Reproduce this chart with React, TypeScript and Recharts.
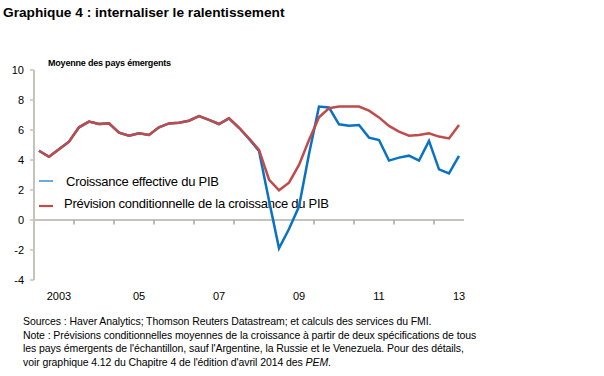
import { FC } from "react";
import {
  ComposedChart,
  Line,
  XAxis,
  YAxis,
  ReferenceLine,
} from "recharts";

// trimestres 2003T1 .. 2013T3
const years = [2003, 2004, 2005, 2006, 2007, 2008, 2009, 2010, 2011, 2012, 2013];
const periods: string[] = [];
years.forEach((y) => {
  for (let q = 1; q <= 4; q++) {
    if (y === 2013 && q === 4) break;
    periods.push(`${y}T${q}`);
  }
});

const prevision = [
  4.62, 4.22, 4.71, 5.22, 6.18, 6.56, 6.4, 6.44, 5.82, 5.62, 5.78, 5.67, 6.18,
  6.44, 6.49, 6.62, 6.93, 6.67, 6.4, 6.78, 6.15, 5.45, 4.67, 2.7, 1.98, 2.49,
  3.67, 5.33, 6.85, 7.45, 7.56, 7.56, 7.56, 7.29, 6.84, 6.27, 5.89, 5.62, 5.67,
  5.78, 5.56, 5.44, 6.33,
];

const effective = [
  4.62, 4.22, 4.71, 5.22, 6.18, 6.56, 6.4, 6.44, 5.82, 5.62, 5.78, 5.67, 6.18,
  6.44, 6.49, 6.62, 6.93, 6.67, 6.4, 6.78, 6.15, 5.4, 4.6, 1.3, -1.89, -0.6,
  0.9, 4.4, 7.56, 7.5, 6.38, 6.29, 6.33, 5.49, 5.33, 3.96, 4.16, 4.29, 3.96,
  5.27, 3.38, 3.11, 4.27,
];

const yTicks = [-4, -2, 0, 2, 4, 6, 8, 10];
const xLabelIdx = [2, 10, 18, 26, 34, 42];
const xLabels = ["2003", "05", "07", "09", "11", "13"];
const yearBreaks = [3.5, 7.5, 11.5, 15.5, 19.5, 23.5, 27.5, 31.5, 35.5, 39.5];

const series = [
  { key: "effective", name: "Croissance effective du PIB", color: "#0a72c4" },
  {
    key: "prevision",
    name: "Prévision conditionnelle de la croissance du PIB",
    color: "#bf4b4a",
  },
];

const notes = [
  "Sources : Haver Analytics; Thomson Reuters Datastream; et calculs des services du FMI.",
  "Note : Prévisions conditionnelles moyennes de la croissance à partir de deux spécifications de tous",
  "les pays émergents de l'échantillon, sauf l'Argentine, la Russie et le Venezuela. Pour des détails,",
  "voir graphique 4.12 du Chapitre 4 de l'édition d'avril 2014 des ",
];

const data = periods.map((p, i) => ({
  idx: i,
  period: p,
  effective: effective[i],
  prevision: prevision[i],
}));

const font = '"Liberation Sans", Arial, sans-serif';
const axisGrey = "#c4c4bc";

const App: FC = () => {
  return (
    <div
      style={{
        position: "absolute",
        left: 0,
        top: 0,
        width: 604,
        height: 376,
        background: "#fff",
        fontFamily: font,
      }}
    >
      <svg
        width={604}
        height={376}
        style={{ position: "absolute", left: 0, top: 0 }}
        fontFamily={font}
      >
        <text x={3} y={17} fontSize={13.7} fontWeight="bold" fill="#000">
          Graphique 4 : internaliser le ralentissement
        </text>
        <text
          x={48}
          y={66}
          fontSize={9}
          fontWeight="bold"
          letterSpacing={-0.2}
          fill="#000"
        >
          Moyenne des pays émergents
        </text>
        {/* légende, sous les courbes */}
        <line x1={39} x2={53} y1={181} y2={181} stroke={series[0].color} strokeWidth={1.2} />
        <text x={66} y={186} fontSize={13} letterSpacing={-0.25} fill="#000">
          {series[0].name}
        </text>
        <line x1={39} x2={53} y1={206} y2={206} stroke={series[1].color} strokeWidth={2.2} />
        <text x={64} y={208} fontSize={13} letterSpacing={-0.25} fill="#000">
          {series[1].name}
        </text>
        {notes.map((t, i) => (
          <text
            key={i}
            x={23}
            y={325 + i * 13.7}
            fontSize={10.5}
            letterSpacing={-0.08}
            fill="#000"
          >
            {t}
            {i === notes.length - 1 && (
              <>
                <tspan fontStyle="italic">PEM</tspan>.
              </>
            )}
          </text>
        ))}
      </svg>

      <div style={{ position: "absolute", left: 0, top: 0 }}>
        <ComposedChart
          width={604}
          height={376}
          data={data}
          margin={{ top: 70, right: 140, bottom: 66, left: 0 }}
        >
          <XAxis
            dataKey="idx"
            type="number"
            domain={[-0.5, 42.5]}
            ticks={xLabelIdx}
            tickFormatter={(v: number) => xLabels[xLabelIdx.indexOf(v)] ?? ""}
            axisLine={false}
            tickLine={false}
            tickSize={0}
            tickMargin={12}
            height={30}
            interval={0}
            tick={{ fill: "#000", fontSize: 11, fontFamily: font }}
          />
          <YAxis
            type="number"
            domain={[-4, 10]}
            ticks={yTicks}
            width={34}
            interval={0}
            axisLine={{ stroke: axisGrey, strokeWidth: 2 }}
            tickLine={{ stroke: axisGrey, strokeWidth: 1.5 }}
            tickSize={4}
            tickMargin={6}
            tick={{ fill: "#000", fontSize: 11, fontFamily: font }}
          />
          <ReferenceLine y={0} stroke={axisGrey} strokeWidth={2} />
          {yearBreaks.map((b) => (
            <ReferenceLine
              key={b}
              segment={[
                { x: b, y: 0 },
                { x: b, y: -0.3 },
              ]}
              stroke="#a8a8a0"
              strokeWidth={1.5}
            />
          ))}
          <Line
            type="linear"
            dataKey="effective"
            name={series[0].name}
            stroke={series[0].color}
            strokeWidth={2.5}
            dot={false}
            activeDot={false}
            isAnimationActive={false}
          />
          <Line
            type="linear"
            dataKey="prevision"
            name={series[1].name}
            stroke={series[1].color}
            strokeWidth={2.5}
            dot={false}
            activeDot={false}
            isAnimationActive={false}
          />
        </ComposedChart>
      </div>
    </div>
  );
};

export default App;
